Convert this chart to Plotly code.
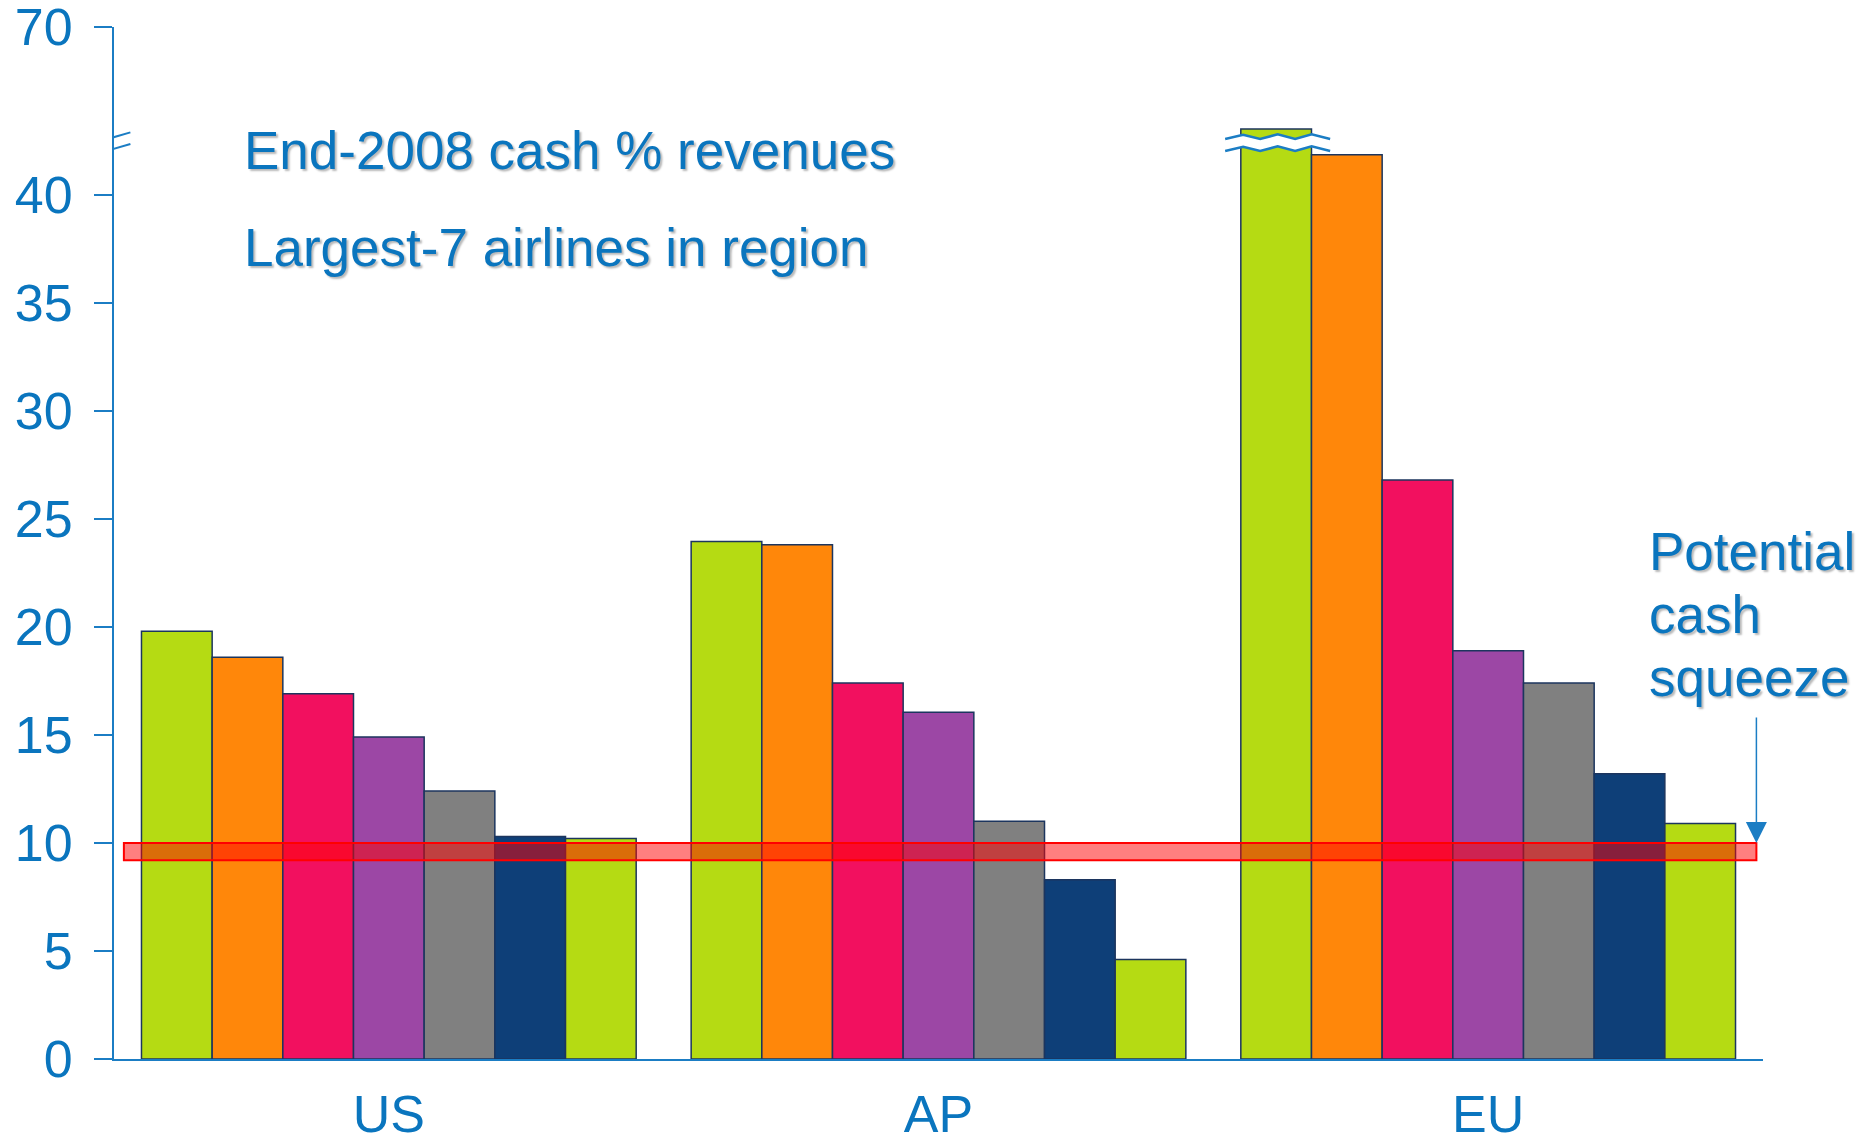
import plotly.graph_objects as go

# ---- data ----
regions = ["US", "AP", "EU"]
us_values = [19.8, 18.6, 16.9, 14.9, 12.4, 10.3, 10.2]
ap_values = [23.95, 23.8, 17.4, 16.05, 11.0, 8.3, 4.6]
eu_values = [45.7, 41.85, 26.8, 18.9, 17.4, 13.2, 10.9]
bar_colors = ["#B5DB13", "#FF870A", "#F2105F", "#9C47A5", "#808080", "#0E3F78", "#B5DB13"]
tick_values = [0, 5, 10, 15, 20, 25, 30, 35, 40, 70]
squeeze_low, squeeze_high = 9.2, 10.0
title_lines = ["End-2008 cash % revenues", "Largest-7 airlines in region"]
note_lines = ["Potential", "cash", "squeeze"]

# ---- broken axis mapping ----
BREAK_VAL = 42.41
TOP_VAL, TOP_POS = 70.0, 47.76


def axis_pos(v):
    if v <= BREAK_VAL:
        return v
    return BREAK_VAL + (v - BREAK_VAL) * (TOP_POS - BREAK_VAL) / (TOP_VAL - BREAK_VAL)


BLUE_TXT = "#0A75BE"
BLUE_AX = "#1B7DC4"
FONT = "Liberation Sans, Arial, sans-serif"
SHADOW = "2px 2px 2px rgba(0,0,0,0.28)"

fig = go.Figure()
n = len(bar_colors)
for i in range(n):
    vals = [us_values[i], ap_values[i], eu_values[i]]
    fig.add_trace(go.Bar(
        x=regions, y=[axis_pos(v) for v in vals],
        marker=dict(color=bar_colors[i], line=dict(color="#1C355E", width=1.5)),
        customdata=vals, hovertemplate="%{x}: %{customdata}<extra></extra>",
        showlegend=False,
    ))

shapes = []
# red "cash squeeze" band
shapes.append(dict(type="rect", xref="x", yref="y", x0=-0.482, x1=2.488,
                   y0=squeeze_low, y1=squeeze_high, layer="above",
                   fillcolor="rgba(255,0,0,0.5)", line=dict(color="#FF0000", width=2)))

# y-axis break marks
bp = axis_pos(BREAK_VAL)
shapes.append(dict(type="path", xref="x", yref="y", xsizemode="pixel", ysizemode="pixel",
                   xanchor=-0.5, yanchor=bp, layer="above",
                   path="M -15,1.3 L 16.4,10.3 L 16.4,-1.3 L -15,-10.3 Z",
                   fillcolor="white", line=dict(width=0)))
for (a, b) in [((-15, 1.3), (16.4, 10.3)), ((-15, -10.3), (16.4, -1.3))]:
    shapes.append(dict(type="line", xref="x", yref="y", xsizemode="pixel", ysizemode="pixel",
                       xanchor=-0.5, yanchor=bp, layer="above",
                       x0=a[0], y0=a[1], x1=b[0], y1=b[1],
                       line=dict(color=BLUE_AX, width=2)))

# bar break (wavy) on the EU first bar
bar_w = 0.9 / n
eu_bar0_x = 2 - 3 * bar_w
wx = [-51, -33, -16, 1.5, 19, 35.5, 54]
wy_up = [3.7, 8, 3.7, 8.3, 3.7, 8.3, 3.7]
wy_lo = [y - 12 for y in wy_up]
fill_path = "M " + " L ".join(f"{x},{y}" for x, y in zip(wx, wy_up)) + " L " + \
    " L ".join(f"{x},{y}" for x, y in zip(wx[::-1], wy_lo[::-1])) + " Z"
shapes.append(dict(type="path", xref="x", yref="y", xsizemode="pixel", ysizemode="pixel",
                   xanchor=eu_bar0_x, yanchor=bp, layer="above", path=fill_path,
                   fillcolor="white", line=dict(width=0)))
for wy in (wy_up, wy_lo):
    p = "M " + " L ".join(f"{x},{y}" for x, y in zip(wx, wy))
    shapes.append(dict(type="path", xref="x", yref="y", xsizemode="pixel", ysizemode="pixel",
                       xanchor=eu_bar0_x, yanchor=bp, layer="above", path=p,
                       line=dict(color=BLUE_AX, width=2.5)))

annotations = []
for txt, yv in zip(title_lines, [42.04, 37.58]):
    annotations.append(dict(x=-0.267, y=yv, xref="x", yref="y", text=txt, showarrow=False,
                            xanchor="left", yanchor="middle",
                            font=dict(family=FONT, size=53, color=BLUE_TXT, shadow=SHADOW)))
for txt, yv in zip(note_lines, [23.47, 20.59, 17.65]):
    annotations.append(dict(x=2.289, y=yv, xref="x", yref="y", text=txt, showarrow=False,
                            xanchor="left", yanchor="middle",
                            font=dict(family=FONT, size=53, color=BLUE_TXT, shadow=SHADOW)))
annotations.append(dict(x=2.488, y=squeeze_high, xref="x", yref="y", text="", showarrow=True,
                        ax=0, ay=-127, arrowhead=2, arrowsize=2.8, arrowwidth=1.5,
                        arrowcolor=BLUE_AX, standoff=0))

fig.update_layout(
    template="none",
    width=1863, height=1129,
    margin=dict(l=106, r=108, t=19, b=78, autoexpand=False),
    paper_bgcolor="white", plot_bgcolor="white",
    barmode="group", bargap=0.1, bargroupgap=0,
    showlegend=False,
    font=dict(family=FONT, color=BLUE_TXT, size=52),
    shapes=shapes, annotations=annotations,
    xaxis=dict(range=[-0.5, 2.5], showline=True, linecolor=BLUE_AX, linewidth=2,
               ticks="", showgrid=False, zeroline=False, automargin=False,
               tickfont=dict(family=FONT, size=52, color=BLUE_TXT),
               ticklabelstandoff=9, ticklabeloverflow="allow"),
    yaxis=dict(range=[0, TOP_POS + 0.005], showline=True, linecolor=BLUE_AX, linewidth=2,
               ticks="outside", ticklen=18, tickwidth=2, tickcolor=BLUE_AX,
               tickvals=[axis_pos(v) for v in tick_values],
               ticktext=[str(v) for v in tick_values],
               showgrid=False, zeroline=False, automargin=False,
               tickfont=dict(family=FONT, size=52, color=BLUE_TXT),
               ticklabelstandoff=11, ticklabeloverflow="allow"),
)

fig.write_html("out.html")
